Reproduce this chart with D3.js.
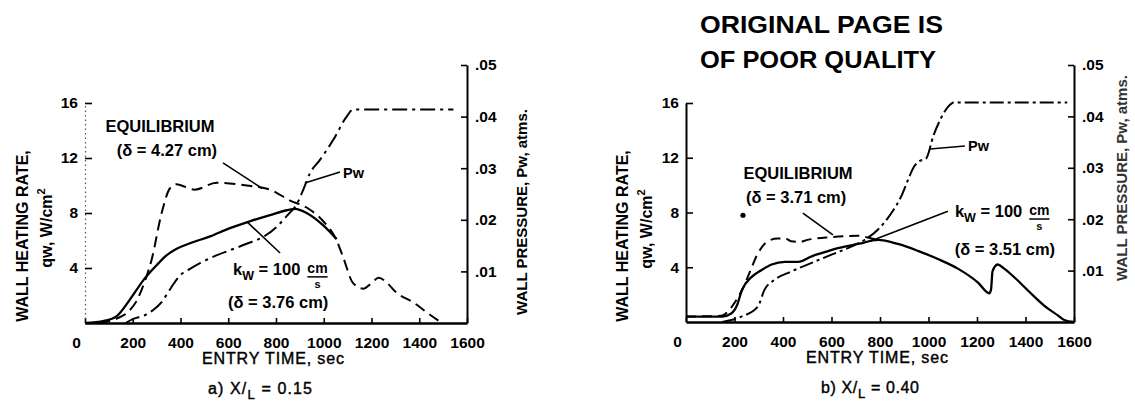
<!DOCTYPE html>
<html><head><meta charset="utf-8">
<script src="https://cdn.jsdelivr.net/npm/d3@7"></script>
<style>
body{margin:0;background:#fff;}
svg{display:block;font-family:"Liberation Sans",Arial,sans-serif;font-weight:bold;}
</style></head><body>
<svg id="c" width="1135" height="407"></svg>
<script>
// ---------- data ----------
const timeTicks = [0, 200, 400, 600, 800, 1000, 1200, 1400, 1600];
const qwTicks = [4, 8, 12, 16];
const pwTicks = [0.01, 0.02, 0.03, 0.04, 0.05];
const pwTickLabels = [".01", ".02", ".03", ".04", ".05"];

// panel a) X/L = 0.15  [time sec, qw W/cm2]
const eqA = [[60,0],[130,0.3],[180,0.8],[216,1.6],[250,3.0],[279,4.6],[321,8.0],[356,9.8],[384,10.1],[420,9.9],[460,9.7],[551,10.2],[677,10.0],[775,9.7],[859,8.9],[928,8.4],[998,7.4],[1054,6.0],[1081,4.8],[1123,2.9],[1166,2.5],[1200,2.9],[1230,3.3],[1260,3.0],[1305,2.2],[1375,1.5],[1445,0.6],[1495,0]];
const kwA = [[0,0],[80,0.15],[133,0.5],[188,1.7],[244,3.1],[300,4.2],[340,4.9],[384,5.4],[440,5.8],[524,6.3],[607,6.9],[691,7.4],[775,7.85],[845,8.2],[880,8.3],[928,8.0],[998,7.1],[1054,6.1]];
// [time sec, Pw atm]
const pwA = [[170,0],[202,0.0008],[250,0.0015],[285,0.0025],[320,0.004],[342,0.0055],[370,0.0075],[398,0.0092],[440,0.0105],[482,0.0116],[545,0.013],[607,0.0141],[680,0.0154],[747,0.0167],[800,0.0185],[831,0.02],[860,0.0215],[880,0.0225],[914,0.0258],[942,0.029],[984,0.0316],[1040,0.0355],[1096,0.040],[1124,0.0414],[1543,0.0414]];

// panel b) X/L = 0.40
const eqB = [[0,0.4],[145,0.45],[175,0.8],[200,1.4],[230,2.3],[255,3.3],[296,5.0],[337,5.9],[378,6.1],[410,6.1],[433,5.9],[470,5.85],[502,6.0],[598,6.2],[708,6.3],[765,6.1],[800,5.95]];
const kwB = [[0,0.4],[150,0.4],[185,0.6],[210,1.2],[230,2.3],[271,3.3],[312,3.8],[353,4.2],[408,4.4],[463,4.4],[518,4.8],[572,5.1],[627,5.4],[710,5.7],[792,6.0],[874,5.7],[956,5.2],[1039,4.6],[1121,3.9],[1203,2.9],[1251,2.1],[1258,2.4],[1264,3.7],[1285,4.2],[1312,3.9],[1367,3.05],[1422,2.1],[1477,1.2],[1532,0.5],[1560,0.15],[1600,0]];
const pwB = [[150,0],[226,0.001],[296,0.003],[324,0.0063],[365,0.0082],[433,0.0098],[518,0.0115],[600,0.0131],[683,0.0147],[737,0.016],[792,0.018],[847,0.0212],[888,0.0245],[916,0.0277],[940,0.0302],[963,0.0313],[990,0.0318],[1020,0.0362],[1050,0.0395],[1083,0.042],[1105,0.0427],[1572,0.0427]];

// ---------- layout ----------
const FONT = '"Liberation Sans", Arial, sans-serif';
const svg = d3.select("#c");

svg.append("text").attr("x", 700).attr("y", 33).attr("font-size", 23)
  .attr("textLength", 243).attr("lengthAdjust", "spacingAndGlyphs").text("ORIGINAL PAGE IS");
svg.append("text").attr("x", 700).attr("y", 68).attr("font-size", 23)
  .attr("textLength", 236).attr("lengthAdjust", "spacingAndGlyphs").text("OF POOR QUALITY");

const panels = [
  {xr:[85,467], y0:323, yq16:103, yp05:65, dottedLeft:true, eq:eqA, kw:kwA, pw:pwA,
   eqDash:"11,6", pwDash:"15,5,3,5",
   yLab1X:28, yLab2X:52, yLabY:236, yLab2Y:228, pLabX:527, pLabY:212,
   eqText:[314,13.9], eqDelta:[343,12.15,"(δ = 4.27 cm)"], eqLead:[[578,11.64],[741,9.8]],
   pwText:[1081,10.55], pwLead:[[1068,10.98],[921,10.18]],
   kText:[620,3.5], kLead:[[817,5.09],[679,7.35]], kDelta:[599,1.09,"(δ = 3.76 cm)"], dot:null,
   xLabX:273, sub:"a)", subVal:"0.15", subX:260, subLen:104, pLabColor:"#000"},
  {xr:[686,1074], y0:322, yq16:103, yp05:65, dottedLeft:false, eq:eqB, kw:kwB, pw:pwB,
   eqDash:"10,6", pwDash:"14,4,3,4",
   yLab1X:628, yLab2X:652, yLabY:236, yLab2Y:229, pLabX:1127, pLabY:178,
   eqText:[462,10.45], eqDelta:[454,8.7,"(δ = 3.71 cm)"], eqLead:[[482,7.96],[606,6.36]],
   pwText:[1163,12.5], pwLead:[[1150,12.86],[1006,12.64]],
   kText:[1109,7.67], kLead:[[1080,8.1],[759,5.9]], kDelta:[1315,4.9,"(δ = 3.51 cm)"], dot:[235,7.8],
   xLabX:877, sub:"b)", subVal:"0.40", subX:870, subLen:98, pLabColor:"#333"}
];

panels.forEach(p => {
  const g = svg.append("g");
  const x = d3.scaleLinear().domain([0, 1600]).range(p.xr);
  const yq = d3.scaleLinear().domain([0, 16]).range([p.y0, p.yq16]);
  const yp = d3.scaleLinear().domain([0, 0.05]).range([p.y0, p.yp05]);

  // x axis
  const xa = g.append("g").attr("transform", `translate(0,${p.y0})`)
    .call(d3.axisBottom(x).tickValues(timeTicks).tickSize(-5).tickSizeOuter(0).tickFormat(d => d))
    .attr("font-family", null).attr("font-size", null);
  xa.select(".domain").attr("stroke-width", 2.4);
  xa.selectAll(".tick line").attr("stroke-width", 1.6);
  xa.selectAll(".tick text").attr("y", 25).attr("dy", null).attr("font-size", 15.5)
    .attr("font-family", FONT).attr("fill", "#000")
    .attr("dx", d => d === 0 ? -9 : 0);

  // left axis (qw)
  const la = g.append("g").attr("transform", `translate(${x(0)},0)`)
    .call(d3.axisLeft(yq).tickValues(qwTicks).tickSize(-7).tickSizeOuter(0).tickPadding(7))
    .attr("font-family", null).attr("font-size", null);
  la.select(".domain").attr("stroke-width", p.dottedLeft ? 1.2 : 2)
    .attr("stroke-dasharray", p.dottedLeft ? "1.5,3" : null)
    .attr("stroke", p.dottedLeft ? "#555" : "#000");
  la.selectAll(".tick line").attr("stroke-width", 1.6);
  la.selectAll(".tick text").attr("font-size", 15.5).attr("font-family", FONT).attr("fill", "#000");

  // right axis (Pw)
  const ra = g.append("g").attr("transform", `translate(${x(1600)},0)`)
    .call(d3.axisRight(yp).tickValues(pwTicks).tickSize(-6).tickSizeOuter(0).tickPadding(8)
      .tickFormat((d, i) => pwTickLabels[i]))
    .attr("font-family", null).attr("font-size", null);
  ra.select(".domain").attr("stroke-width", 2);
  ra.selectAll(".tick line").attr("stroke-width", 1.6);
  ra.selectAll(".tick text").attr("font-size", 15.5).attr("font-family", FONT).attr("fill", "#000");

  // curves
  const lq = d3.line().x(d => x(d[0])).y(d => yq(d[1])).curve(d3.curveMonotoneX);
  const lp = d3.line().x(d => x(d[0])).y(d => yp(d[1])).curve(d3.curveMonotoneX);
  g.append("path").attr("d", lq(p.eq)).attr("fill", "none").attr("stroke", "#000")
    .attr("stroke-width", 2).attr("stroke-dasharray", p.eqDash);
  g.append("path").attr("d", lq(p.kw)).attr("fill", "none").attr("stroke", "#000")
    .attr("stroke-width", 2.3);
  g.append("path").attr("d", lp(p.pw)).attr("fill", "none").attr("stroke", "#000")
    .attr("stroke-width", 2).attr("stroke-dasharray", p.pwDash);

  // annotations
  const lead = (pts) => g.append("line")
    .attr("x1", x(pts[0][0])).attr("y1", yq(pts[0][1]))
    .attr("x2", x(pts[1][0])).attr("y2", yq(pts[1][1]))
    .attr("stroke", "#000").attr("stroke-width", 1.6);
  g.append("text").attr("x", x(p.eqText[0])).attr("y", yq(p.eqText[1]))
    .attr("text-anchor", "middle").attr("font-size", 16.5).text("EQUILIBRIUM");
  g.append("text").attr("x", x(p.eqDelta[0])).attr("y", yq(p.eqDelta[1]))
    .attr("text-anchor", "middle").attr("font-size", 16.5).text(p.eqDelta[2]);
  lead(p.eqLead);
  g.append("text").attr("x", x(p.pwText[0])).attr("y", yq(p.pwText[1]))
    .attr("font-size", 14.5).text("Pw");
  lead(p.pwLead);
  lead(p.kLead);
  const kx = x(p.kText[0]), ky = yq(p.kText[1]);
  const kt = g.append("text").attr("x", kx).attr("y", ky).attr("font-size", 16.5);
  kt.append("tspan").text("k");
  kt.append("tspan").attr("dy", 5).attr("font-size", 12.5).text("W");
  kt.append("tspan").attr("dy", -5).text(" = 100");
  const kw = kt.node().getComputedTextLength();
  const fx = kx + kw + 7;
  const ct = g.append("text").attr("x", fx).attr("y", ky - 2).attr("font-size", 14).text("cm");
  const cw = ct.node().getComputedTextLength();
  g.append("line").attr("x1", fx).attr("x2", fx + cw).attr("y1", ky + 2).attr("y2", ky + 2)
    .attr("stroke", "#000").attr("stroke-width", 1.5);
  g.append("text").attr("x", fx + cw / 2).attr("y", ky + 13).attr("text-anchor", "middle")
    .attr("font-size", 11).text("s");
  g.append("text").attr("x", x(p.kDelta[0])).attr("y", yq(p.kDelta[1]))
    .attr("text-anchor", p === panels[0] ? "start" : "middle").attr("font-size", 16.5).text(p.kDelta[2]);
  if (p.dot) g.append("circle").attr("cx", x(p.dot[0])).attr("cy", yq(p.dot[1])).attr("r", 2.6).attr("fill", "#000");

  // axis titles
  g.append("text").attr("transform", `translate(${p.yLab1X},${p.yLabY}) rotate(-90)`)
    .attr("text-anchor", "middle").attr("font-size", 16).text("WALL HEATING RATE,");
  const q2 = g.append("text").attr("transform", `translate(${p.yLab2X},${p.yLab2Y}) rotate(-90)`)
    .attr("text-anchor", "middle").attr("font-size", 16);
  q2.append("tspan").text("qw, W/cm");
  q2.append("tspan").attr("dy", -7).attr("font-size", 11).text("2");
  g.append("text").attr("transform", `translate(${p.pLabX},${p.pLabY}) rotate(-90)`)
    .attr("text-anchor", "middle").attr("font-size", 15).attr("fill", p.pLabColor)
    .text("WALL PRESSURE, Pw, atms.");
  g.append("text").attr("x", p.xLabX).attr("y", p.y0 + 41).attr("text-anchor", "middle")
    .attr("font-size", 16).attr("font-weight", "normal").attr("stroke", "#000").attr("stroke-width", 0.4)
    .attr("textLength", 142).text("ENTRY TIME, sec");
  const st = g.append("text").attr("x", p.subX - p.subLen / 2).attr("y", p.y0 + 71)
    .attr("font-size", 16).attr("font-weight", "normal").attr("stroke", "#000").attr("stroke-width", 0.4)
    .attr("textLength", p.subLen).attr("lengthAdjust", "spacing");
  st.append("tspan").text(p.sub + " X/");
  st.append("tspan").attr("dy", 5).attr("font-size", 13).text("L");
  st.append("tspan").attr("dy", -5).text(" = " + p.subVal);
});
</script>
</body></html>
